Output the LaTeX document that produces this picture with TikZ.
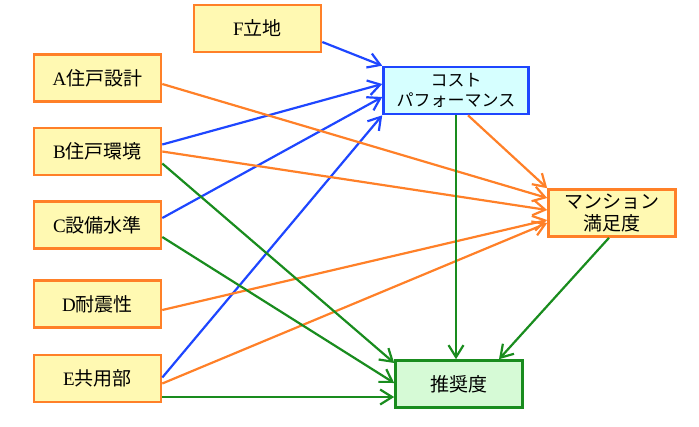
\documentclass[tikz,border=0pt]{standalone}
\usepackage{fontspec}
\setmainfont{Liberation Serif}
\newfontfamily\jpfont{Noto Sans CJK JP}
\usetikzlibrary{arrows.meta}
\definecolor{factorline}{RGB}{255,128,40}
\definecolor{factorfill}{RGB}{255,249,178}
\definecolor{costline}{RGB}{30,70,255}
\definecolor{costfill}{RGB}{214,255,255}
\definecolor{recline}{RGB}{25,140,30}
\definecolor{recfill}{RGB}{214,250,214}
\tikzset{
  box/.style={line width=2.6pt, minimum width=127pt, minimum height=47pt,
    inner sep=0pt, align=center, font=\fontsize{19}{22}\selectfont},
  factor/.style={box, draw=factorline, fill=factorfill},
  link/.style={line width=2.2pt, -{Straight Barb[length=12pt,width=15pt,line width=2.2pt]}},
}

\begin{document}
\begin{tikzpicture}[x=1pt, y=-1pt]
\useasboundingbox (0,0) rectangle (699,426);
\node[factor] (F) at (257.5,28.5) {F{\jpfont 立地}};
\node[factor] (A) at (97.5,78) {A{\jpfont 住戸設計}};
\node[factor] (B) at (97.5,151.5) {B{\jpfont 住戸環境}};
\node[factor] (C) at (97.5,225) {C{\jpfont 設備水準}};
\node[factor] (D) at (97.5,304) {D{\jpfont 耐震性}};
\node[factor] (E) at (97.5,378.5) {E{\jpfont 共用部}};
\node[box, draw=costline, fill=costfill, minimum width=145pt, font=\fontsize{17}{20}\selectfont\jpfont] (cost) at (456,90.5) {コスト\\パフォーマンス};
\node[factor, font=\fontsize{19}{22}\selectfont\jpfont] (sat) at (612,213) {マンション\\満足度};
\node[box, draw=recline, fill=recfill, font=\fontsize{19}{22}\selectfont\jpfont] (rec) at (459,384) {推奨度};

\draw[link, costline] ([yshift=-13.5pt]F.east) -- (cost.north west);
\draw[link, costline] ([yshift=7pt]B.east) -- ([yshift=6.5pt]cost.west);
\draw[link, costline] ([yshift=7pt]C.east) -- ([yshift=-6.5pt]cost.west);
\draw[link, costline] ([yshift=1pt]E.east) -- (cost.south west);

\draw[link, factorline] ([yshift=-6pt]A.east) -- ([yshift=15pt]sat.west);
\draw[link, factorline] (B.east) -- ([yshift=3pt]sat.west);
\draw[link, factorline] ([yshift=-6pt]D.east) -- ([yshift=-7pt]sat.west);
\draw[link, factorline] ([yshift=-5pt]E.east) -- ([yshift=-10pt]sat.west);
\draw[link, factorline] ([xshift=12pt]cost.south) -- (sat.north west);

\draw[link, recline] ([yshift=-12pt]B.east) -- ([yshift=21pt]rec.west);
\draw[link, recline] ([yshift=-12pt]C.east) -- ([yshift=1pt]rec.west);
\draw[link, recline] ([yshift=-18.5pt]E.east) -- ([yshift=-13pt]rec.west);
\draw[link, recline] (cost.south) -- (cost.south |- rec.north);
\draw[link, recline] ([xshift=-3pt]sat.south) -- ([xshift=40pt]rec.north);
\end{tikzpicture}
\end{document}
